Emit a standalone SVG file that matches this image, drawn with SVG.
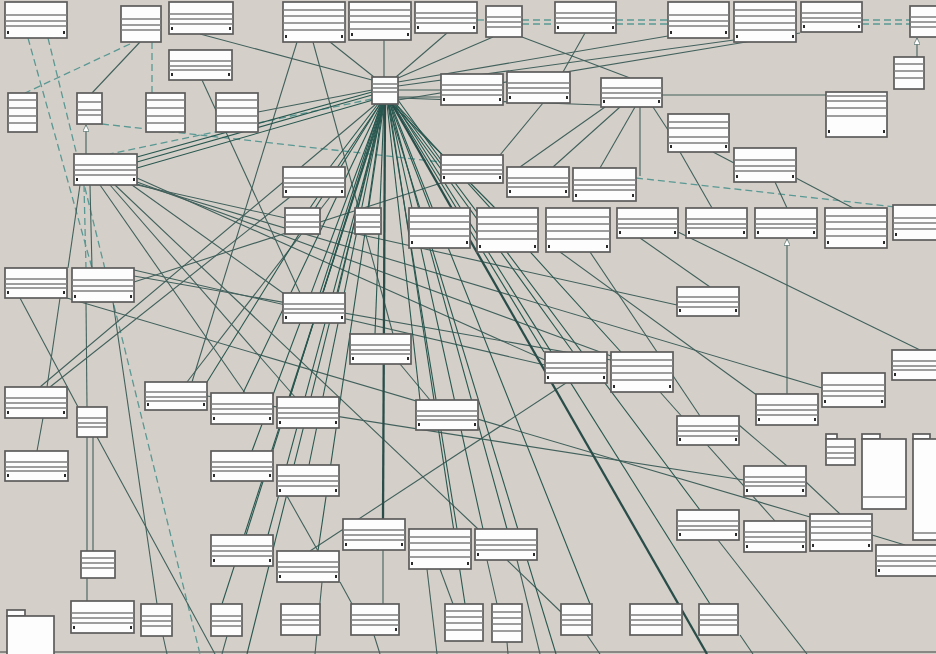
<svg xmlns="http://www.w3.org/2000/svg" width="936" height="654" viewBox="0 0 936 654">
<style>
.n rect{fill:#fdfdfd;stroke:#5c5c5c;stroke-width:1.7}
.n .c{stroke:#7e7e7e;stroke-width:1.5;fill:none}
.n .k{fill:#2a2a2a}
#edges path{fill:none}
.s{stroke:#42605c;stroke-width:1.1}
.d{stroke:#5a9894;stroke-width:1.3;stroke-dasharray:7 4}
.h{stroke:#28574f;stroke-width:1.1}
.t{stroke:#2a4d4a;stroke-width:2.3}
</style>
<defs>
<marker id="tri" viewBox="0 0 10 10" refX="10" refY="5" markerWidth="6" markerHeight="6" orient="auto"><path d="M0 0L10 5L0 10z" fill="#fff" stroke="#42605c"/></marker>
</defs>
<rect width="936" height="654" fill="#d4d0c9"/>
<path d="M0 652H936" stroke="#8a8884" stroke-width="2"/>
<g id="edges">
<path class="d" d="M28 38L92 268"/>
<path class="d" d="M48 38L200 654"/>
<path class="d" d="M130 44L25 93"/>
<path class="d" d="M152 42V93"/>
<path class="d" d="M102 124L441 162"/>
<path class="d" d="M636 178L905 208"/>
<path class="d" d="M522 20H555M522 24H555"/>
<path class="d" d="M616 20H668M616 24H668"/>
<path class="d" d="M862 20H910M862 24H910"/>
<path class="d" d="M477 20H486"/>
<path class="d" d="M372 99L110 154"/>
<path class="d" d="M84 185L86 268"/>
<path class="s" d="M140 42L92 93"/>
<path class="s" d="M86 154V125" marker-end="url(#tri)"/>
<path class="s" d="M384 40V77"/>
<path class="s" d="M330 42L374 77"/>
<path class="s" d="M200 34L372 80"/>
<path class="s" d="M447 33L396 77"/>
<path class="s" d="M493 37L398 78"/>
<path class="s" d="M668 36L398 82"/>
<path class="s" d="M734 40L398 86"/>
<path class="s" d="M800 33L398 100"/>
<path class="s" d="M522 37L630 78"/>
<path class="s" d="M585 33L563 72"/>
<path class="s" d="M662 95H826"/>
<path class="s" d="M605 107L520 167"/>
<path class="s" d="M620 107L553 167"/>
<path class="s" d="M635 107L600 168"/>
<path class="s" d="M640 107V176"/>
<path class="s" d="M653 107L668 130"/>
<path class="s" d="M398 98L601 105"/>
<path class="s" d="M680 152L712 208"/>
<path class="s" d="M713 152L734 163"/>
<path class="s" d="M917 57V38" marker-end="url(#tri)"/>
<path class="s" d="M775 182L787 208"/>
<path class="s" d="M796 178L853 208"/>
<path class="s" d="M787 394V239" marker-end="url(#tri)"/>
<path class="s" d="M678 232L920 350"/>
<path class="s" d="M640 238L710 287"/>
<path class="s" d="M441 90H398M441 97H398"/>
<path class="s" d="M543 103L500 155"/>
<path class="s" d="M258 112L372 90"/>
<path class="s" d="M297 42L192 382"/>
<path class="s" d="M313 42L393 334"/>
<path class="s" d="M202 80L300 293"/>
<path class="s" d="M80 185L68 268"/>
<path class="s" d="M90 185L92 268"/>
<path class="s" d="M100 185L245 393"/>
<path class="s" d="M110 185L295 397"/>
<path class="s" d="M115 185L478 529"/>
<path class="s" d="M132 185L283 293"/>
<path class="s" d="M137 178L545 360"/>
<path class="s" d="M137 182L611 356"/>
<path class="s" d="M137 184L822 388"/>
<path class="s" d="M137 185L677 305"/>
<path class="s" d="M67 298L810 517"/>
<path class="s" d="M20 298L78 407"/>
<path class="s" d="M60 298L47 387"/>
<path class="s" d="M86 302L87 407"/>
<path class="s" d="M113 302L157 604"/>
<path class="s" d="M134 276L611 360"/>
<path class="s" d="M134 270L545 365"/>
<path class="s" d="M134 282L441 183"/>
<path class="s" d="M40 387L376 104"/>
<path class="s" d="M50 387L290 197"/>
<path class="s" d="M43 418L37 451"/>
<path class="s" d="M87 437V551M93 437V551"/>
<path class="s" d="M87 578V601"/>
<path class="s" d="M97 437L215 654"/>
<path class="s" d="M163 636L167 654M227 636L222 654"/>
<path class="s" d="M187 382L330 197"/>
<path class="s" d="M207 396L744 480"/>
<path class="s" d="M287 496L318 551"/>
<path class="s" d="M322 582L315 654"/>
<path class="s" d="M340 582L352 604"/>
<path class="s" d="M383 550V604"/>
<path class="s" d="M374 635L380 654"/>
<path class="s" d="M427 569L437 654"/>
<path class="s" d="M440 569L453 604"/>
<path class="s" d="M310 551L566 383"/>
<path class="s" d="M487 560L497 604"/>
<path class="s" d="M517 560L540 654"/>
<path class="s" d="M507 560L561 612"/>
<path class="s" d="M587 635L600 654"/>
<path class="s" d="M507 642L508 654"/>
<path class="s" d="M739 425L787 466"/>
<path class="s" d="M806 482L840 514"/>
<path class="s" d="M872 535L905 545"/>
<path class="s" d="M660 392L775 521"/>
<path class="s" d="M718 540L807 654"/>
<path class="s" d="M740 635L753 654"/>
<path class="s" d="M560 252L758 396"/>
<path class="s" d="M590 252L700 416"/>
<path class="s" d="M400 364L430 400"/>
<path class="h" d="M372 92L137 157"/>
<path class="h" d="M372 95L137 162"/>
<path class="h" d="M373 100L137 168"/>
<path class="h" d="M378 104L330 167"/>
<path class="h" d="M380 104L310 208"/>
<path class="h" d="M383 104L368 208"/>
<path class="h" d="M381 104L320 293"/>
<path class="h" d="M382 104L338 293"/>
<path class="h" d="M384 104L375 334"/>
<path class="h" d="M380 104L207 382"/>
<path class="h" d="M381 104L243 393"/>
<path class="h" d="M382 104L290 397"/>
<path class="h" d="M382 104L252 451"/>
<path class="h" d="M383 104L309 465"/>
<path class="h" d="M383 104L246 535"/>
<path class="h" d="M384 104L318 551"/>
<path class="h" d="M384 104L268 535"/>
<path class="h" d="M384 104L222 604"/>
<path class="h" d="M384 104L247 654"/>
<path class="t" d="M385 104L383 519"/>
<path class="h" d="M387 104L420 400"/>
<path class="h" d="M388 104L457 529"/>
<path class="h" d="M389 104L483 529"/>
<path class="h" d="M390 104L507 529"/>
<path class="h" d="M390 104L430 208"/>
<path class="h" d="M392 104L495 208"/>
<path class="h" d="M391 104L590 604"/>
<path class="t" d="M392 104L707 654"/>
<path class="h" d="M393 104L544 352"/>
<path class="h" d="M394 104L573 352"/>
<path class="h" d="M396 104L621 352"/>
<path class="h" d="M395 104L710 604"/>
<path class="h" d="M396 104L700 510"/>
<path class="h" d="M398 100L441 160"/>
<path class="h" d="M388 104L556 654"/>
<path class="h" d="M389 104L465 604"/>
</g>
<g id="n1" class="n"><rect x="5" y="2" width="62" height="36"/><path class="c" d="M5 15h62M5 21h62M5 26h62"/><path class="k" d="M7 31h2v3h-2zM63 31h2v3h-2z"/></g>
<g id="n2" class="n"><rect x="121" y="6" width="40" height="36"/><path class="c" d="M121 19h40M121 25h40M121 30h40"/></g>
<g id="n3" class="n"><rect x="169" y="2" width="64" height="32"/><path class="c" d="M169 14h64M169 19h64M169 24h64"/><path class="k" d="M171 27h2v3h-2zM229 27h2v3h-2z"/></g>
<g id="n4" class="n"><rect x="283" y="2" width="62" height="40"/><path class="c" d="M283 10h62M283 16h62M283 23h62M283 30h62"/><path class="k" d="M285 35h2v3h-2zM341 35h2v3h-2z"/></g>
<g id="n5" class="n"><rect x="349" y="2" width="62" height="38"/><path class="c" d="M349 10h62M349 16h62M349 22h62M349 29h62"/><path class="k" d="M351 33h2v3h-2zM407 33h2v3h-2z"/></g>
<g id="n6" class="n"><rect x="415" y="2" width="62" height="31"/><path class="c" d="M415 13h62M415 18h62M415 23h62"/><path class="k" d="M417 26h2v3h-2zM473 26h2v3h-2z"/></g>
<g id="n7" class="n"><rect x="486" y="6" width="36" height="31"/><path class="c" d="M486 17h36M486 22h36M486 27h36"/></g>
<g id="n8" class="n"><rect x="555" y="2" width="61" height="31"/><path class="c" d="M555 13h61M555 18h61M555 23h61"/><path class="k" d="M557 26h2v3h-2zM612 26h2v3h-2z"/></g>
<g id="n9" class="n"><rect x="668" y="2" width="61" height="36"/><path class="c" d="M668 15h61M668 21h61M668 26h61"/><path class="k" d="M670 31h2v3h-2zM725 31h2v3h-2z"/></g>
<g id="n10" class="n"><rect x="734" y="2" width="62" height="40"/><path class="c" d="M734 10h62M734 16h62M734 23h62M734 30h62"/><path class="k" d="M736 35h2v3h-2zM792 35h2v3h-2z"/></g>
<g id="n11" class="n"><rect x="801" y="2" width="61" height="30"/><path class="c" d="M801 13h61M801 18h61M801 22h61"/><path class="k" d="M803 25h2v3h-2zM858 25h2v3h-2z"/></g>
<g id="n12" class="n"><rect x="910" y="6" width="30" height="31"/><path class="c" d="M910 17h30M910 22h30M910 27h30"/></g>
<g id="n13" class="n"><rect x="169" y="50" width="63" height="30"/><path class="c" d="M169 61h63M169 66h63M169 70h63"/><path class="k" d="M171 73h2v3h-2zM228 73h2v3h-2z"/></g>
<g id="n14" class="n"><rect x="8" y="93" width="29" height="39"/><path class="c" d="M8 100h29M8 108h29M8 116h29M8 123h29"/></g>
<g id="n15" class="n"><rect x="77" y="93" width="25" height="31"/><path class="c" d="M77 102h25M77 110h25M77 115h25"/></g>
<g id="n16" class="n"><rect x="146" y="93" width="39" height="39"/><path class="c" d="M146 100h39M146 108h39M146 116h39M146 123h39"/></g>
<g id="n17" class="n"><rect x="216" y="93" width="42" height="39"/><path class="c" d="M216 100h42M216 108h42M216 116h42M216 123h42"/></g>
<g id="n18" class="n"><rect x="372" y="77" width="26" height="27"/><path class="c" d="M372 84h26M372 88h26M372 92h26"/></g>
<g id="n19" class="n"><rect x="441" y="74" width="62" height="31"/><path class="c" d="M441 85h62M441 90h62M441 95h62"/><path class="k" d="M443 98h2v3h-2zM499 98h2v3h-2z"/></g>
<g id="n20" class="n"><rect x="507" y="72" width="63" height="31"/><path class="c" d="M507 83h63M507 88h63M507 93h63"/><path class="k" d="M509 96h2v3h-2zM566 96h2v3h-2z"/></g>
<g id="n21" class="n"><rect x="601" y="78" width="61" height="29"/><path class="c" d="M601 88h61M601 93h61M601 98h61"/><path class="k" d="M603 100h2v3h-2zM658 100h2v3h-2z"/></g>
<g id="n22" class="n"><rect x="894" y="57" width="30" height="32"/><path class="c" d="M894 64h30M894 71h30M894 78h30"/></g>
<g id="n23" class="n"><rect x="826" y="92" width="61" height="45"/><path class="c" d="M826 96h61M826 101h61M826 108h61M826 116h61"/><path class="k" d="M828 130h2v3h-2zM883 130h2v3h-2z"/></g>
<g id="n24" class="n"><rect x="668" y="114" width="61" height="38"/><path class="c" d="M668 122h61M668 128h61M668 137h61M668 143h61"/><path class="k" d="M670 145h2v3h-2zM725 145h2v3h-2z"/></g>
<g id="n25" class="n"><rect x="734" y="148" width="62" height="34"/><path class="c" d="M734 160h62M734 166h62M734 171h62"/><path class="k" d="M736 175h2v3h-2zM792 175h2v3h-2z"/></g>
<g id="n26" class="n"><rect x="74" y="154" width="63" height="31"/><path class="c" d="M74 165h63M74 170h63M74 175h63"/><path class="k" d="M76 178h2v3h-2zM133 178h2v3h-2z"/></g>
<g id="n27" class="n"><rect x="283" y="167" width="62" height="30"/><path class="c" d="M283 178h62M283 183h62M283 187h62"/><path class="k" d="M285 190h2v3h-2zM341 190h2v3h-2z"/></g>
<g id="n28" class="n"><rect x="441" y="155" width="62" height="28"/><path class="c" d="M441 165h62M441 170h62M441 174h62"/><path class="k" d="M443 176h2v3h-2zM499 176h2v3h-2z"/></g>
<g id="n29" class="n"><rect x="507" y="167" width="62" height="30"/><path class="c" d="M507 178h62M507 183h62M507 187h62"/><path class="k" d="M509 190h2v3h-2zM565 190h2v3h-2z"/></g>
<g id="n30" class="n"><rect x="573" y="168" width="63" height="33"/><path class="c" d="M573 180h63M573 185h63M573 190h63"/><path class="k" d="M575 194h2v3h-2zM632 194h2v3h-2z"/></g>
<g id="n31" class="n"><rect x="285" y="208" width="35" height="26"/><path class="c" d="M285 215h35M285 222h35M285 227h35"/></g>
<g id="n32" class="n"><rect x="355" y="208" width="26" height="26"/><path class="c" d="M355 215h26M355 222h26M355 227h26"/></g>
<g id="n33" class="n"><rect x="409" y="208" width="61" height="40"/><path class="c" d="M409 216h61M409 222h61M409 229h61M409 236h61"/><path class="k" d="M411 241h2v3h-2zM466 241h2v3h-2z"/></g>
<g id="n34" class="n"><rect x="477" y="208" width="61" height="44"/><path class="c" d="M477 217h61M477 224h61M477 231h61M477 239h61"/><path class="k" d="M479 245h2v3h-2zM534 245h2v3h-2z"/></g>
<g id="n35" class="n"><rect x="546" y="208" width="64" height="44"/><path class="c" d="M546 217h64M546 224h64M546 231h64M546 239h64"/><path class="k" d="M548 245h2v3h-2zM606 245h2v3h-2z"/></g>
<g id="n36" class="n"><rect x="617" y="208" width="61" height="30"/><path class="c" d="M617 219h61M617 224h61M617 228h61"/><path class="k" d="M619 231h2v3h-2zM674 231h2v3h-2z"/></g>
<g id="n37" class="n"><rect x="686" y="208" width="61" height="30"/><path class="c" d="M686 219h61M686 224h61M686 228h61"/><path class="k" d="M688 231h2v3h-2zM743 231h2v3h-2z"/></g>
<g id="n38" class="n"><rect x="755" y="208" width="62" height="30"/><path class="c" d="M755 219h62M755 224h62M755 228h62"/><path class="k" d="M757 231h2v3h-2zM813 231h2v3h-2z"/></g>
<g id="n39" class="n"><rect x="825" y="208" width="62" height="40"/><path class="c" d="M825 216h62M825 222h62M825 229h62M825 236h62"/><path class="k" d="M827 241h2v3h-2zM883 241h2v3h-2z"/></g>
<g id="n40" class="n"><rect x="893" y="205" width="45" height="35"/><path class="c" d="M893 218h45M893 223h45M893 229h45"/><path class="k" d="M895 233h2v3h-2z"/></g>
<g id="n41" class="n"><rect x="5" y="268" width="62" height="30"/><path class="c" d="M5 279h62M5 284h62M5 288h62"/><path class="k" d="M7 291h2v3h-2zM63 291h2v3h-2z"/></g>
<g id="n42" class="n"><rect x="72" y="268" width="62" height="34"/><path class="c" d="M72 280h62M72 286h62M72 291h62"/><path class="k" d="M74 295h2v3h-2zM130 295h2v3h-2z"/></g>
<g id="n43" class="n"><rect x="283" y="293" width="62" height="30"/><path class="c" d="M283 304h62M283 309h62M283 313h62"/><path class="k" d="M285 316h2v3h-2zM341 316h2v3h-2z"/></g>
<g id="n44" class="n"><rect x="677" y="287" width="62" height="29"/><path class="c" d="M677 297h62M677 302h62M677 307h62"/><path class="k" d="M679 309h2v3h-2zM735 309h2v3h-2z"/></g>
<g id="n45" class="n"><rect x="350" y="334" width="61" height="30"/><path class="c" d="M350 345h61M350 350h61M350 354h61"/><path class="k" d="M352 357h2v3h-2zM407 357h2v3h-2z"/></g>
<g id="n46" class="n"><rect x="545" y="352" width="62" height="31"/><path class="c" d="M545 363h62M545 368h62M545 373h62"/><path class="k" d="M547 376h2v3h-2zM603 376h2v3h-2z"/></g>
<g id="n47" class="n"><rect x="611" y="352" width="62" height="40"/><path class="c" d="M611 360h62M611 366h62M611 373h62M611 380h62"/><path class="k" d="M613 385h2v3h-2zM669 385h2v3h-2z"/></g>
<g id="n48" class="n"><rect x="892" y="350" width="46" height="30"/><path class="c" d="M892 361h46M892 366h46M892 370h46"/><path class="k" d="M894 373h2v3h-2z"/></g>
<g id="n49" class="n"><rect x="5" y="387" width="62" height="31"/><path class="c" d="M5 398h62M5 403h62M5 408h62"/><path class="k" d="M7 411h2v3h-2zM63 411h2v3h-2z"/></g>
<g id="n50" class="n"><rect x="77" y="407" width="30" height="30"/><path class="c" d="M77 418h30M77 423h30M77 427h30"/></g>
<g id="n51" class="n"><rect x="145" y="382" width="62" height="28"/><path class="c" d="M145 392h62M145 397h62M145 401h62"/><path class="k" d="M147 403h2v3h-2zM203 403h2v3h-2z"/></g>
<g id="n52" class="n"><rect x="211" y="393" width="62" height="31"/><path class="c" d="M211 404h62M211 409h62M211 414h62"/><path class="k" d="M213 417h2v3h-2zM269 417h2v3h-2z"/></g>
<g id="n53" class="n"><rect x="277" y="397" width="62" height="31"/><path class="c" d="M277 408h62M277 413h62M277 418h62"/><path class="k" d="M279 421h2v3h-2zM335 421h2v3h-2z"/></g>
<g id="n54" class="n"><rect x="416" y="400" width="62" height="30"/><path class="c" d="M416 411h62M416 416h62M416 420h62"/><path class="k" d="M418 423h2v3h-2zM474 423h2v3h-2z"/></g>
<g id="n55" class="n"><rect x="756" y="394" width="62" height="31"/><path class="c" d="M756 405h62M756 410h62M756 415h62"/><path class="k" d="M758 418h2v3h-2zM814 418h2v3h-2z"/></g>
<g id="n56" class="n"><rect x="822" y="373" width="63" height="34"/><path class="c" d="M822 385h63M822 391h63M822 396h63"/><path class="k" d="M824 400h2v3h-2zM881 400h2v3h-2z"/></g>
<g id="n57" class="n"><rect x="677" y="416" width="62" height="29"/><path class="c" d="M677 426h62M677 431h62M677 436h62"/><path class="k" d="M679 438h2v3h-2zM735 438h2v3h-2z"/></g>
<g id="n58" class="n"><rect x="826" y="434" width="11" height="5"/><rect x="826" y="439" width="29" height="26"/><path class="c" d="M826 447h29M826 453h29M826 458h29"/></g>
<g id="n59" class="n"><rect x="862" y="434" width="18" height="5"/><rect x="862" y="439" width="44" height="70"/><path class="c" d="M862 497h44"/></g>
<g id="n60" class="n"><rect x="913" y="434" width="17" height="5"/><rect x="913" y="439" width="30" height="101"/><path class="c" d="M913 533h30"/></g>
<g id="n61" class="n"><rect x="5" y="451" width="63" height="30"/><path class="c" d="M5 462h63M5 467h63M5 471h63"/><path class="k" d="M7 474h2v3h-2zM64 474h2v3h-2z"/></g>
<g id="n62" class="n"><rect x="211" y="451" width="62" height="30"/><path class="c" d="M211 462h62M211 467h62M211 471h62"/><path class="k" d="M213 474h2v3h-2zM269 474h2v3h-2z"/></g>
<g id="n63" class="n"><rect x="277" y="465" width="62" height="31"/><path class="c" d="M277 476h62M277 481h62M277 486h62"/><path class="k" d="M279 489h2v3h-2zM335 489h2v3h-2z"/></g>
<g id="n64" class="n"><rect x="744" y="466" width="62" height="30"/><path class="c" d="M744 477h62M744 482h62M744 486h62"/><path class="k" d="M746 489h2v3h-2zM802 489h2v3h-2z"/></g>
<g id="n65" class="n"><rect x="343" y="519" width="62" height="31"/><path class="c" d="M343 530h62M343 535h62M343 540h62"/><path class="k" d="M345 543h2v3h-2zM401 543h2v3h-2z"/></g>
<g id="n66" class="n"><rect x="409" y="529" width="62" height="40"/><path class="c" d="M409 537h62M409 543h62M409 550h62M409 557h62"/><path class="k" d="M411 562h2v3h-2zM467 562h2v3h-2z"/></g>
<g id="n67" class="n"><rect x="475" y="529" width="62" height="31"/><path class="c" d="M475 540h62M475 545h62M475 550h62"/><path class="k" d="M477 553h2v3h-2zM533 553h2v3h-2z"/></g>
<g id="n68" class="n"><rect x="677" y="510" width="62" height="30"/><path class="c" d="M677 521h62M677 526h62M677 530h62"/><path class="k" d="M679 533h2v3h-2zM735 533h2v3h-2z"/></g>
<g id="n69" class="n"><rect x="744" y="521" width="62" height="31"/><path class="c" d="M744 532h62M744 537h62M744 542h62"/><path class="k" d="M746 545h2v3h-2zM802 545h2v3h-2z"/></g>
<g id="n70" class="n"><rect x="810" y="514" width="62" height="37"/><path class="c" d="M810 521h62M810 527h62M810 533h62M810 540h62"/><path class="k" d="M812 544h2v3h-2zM868 544h2v3h-2z"/></g>
<g id="n71" class="n"><rect x="876" y="545" width="62" height="31"/><path class="c" d="M876 556h62M876 561h62M876 566h62"/><path class="k" d="M878 569h2v3h-2z"/></g>
<g id="n72" class="n"><rect x="211" y="535" width="62" height="31"/><path class="c" d="M211 546h62M211 551h62M211 556h62"/><path class="k" d="M213 559h2v3h-2zM269 559h2v3h-2z"/></g>
<g id="n73" class="n"><rect x="277" y="551" width="62" height="31"/><path class="c" d="M277 562h62M277 567h62M277 572h62"/><path class="k" d="M279 575h2v3h-2zM335 575h2v3h-2z"/></g>
<g id="n74" class="n"><rect x="81" y="551" width="34" height="27"/><path class="c" d="M81 558h34M81 563h34M81 568h34"/></g>
<g id="n75" class="n"><rect x="7" y="610" width="18" height="6"/><rect x="7" y="616" width="47" height="40"/></g>
<g id="n76" class="n"><rect x="71" y="601" width="63" height="32"/><path class="c" d="M71 613h63M71 618h63M71 623h63"/><path class="k" d="M73 626h2v3h-2zM130 626h2v3h-2z"/></g>
<g id="n77" class="n"><rect x="141" y="604" width="31" height="32"/><path class="c" d="M141 616h31M141 621h31M141 626h31"/></g>
<g id="n78" class="n"><rect x="211" y="604" width="31" height="32"/><path class="c" d="M211 616h31M211 621h31M211 626h31"/></g>
<g id="n79" class="n"><rect x="281" y="604" width="39" height="31"/><path class="c" d="M281 615h39M281 620h39M281 625h39"/></g>
<g id="n80" class="n"><rect x="351" y="604" width="48" height="31"/><path class="c" d="M351 615h48M351 620h48M351 625h48"/><path class="k" d="M395 628h2v3h-2z"/></g>
<g id="n81" class="n"><rect x="445" y="604" width="38" height="37"/><path class="c" d="M445 611h38M445 617h38M445 623h38M445 630h38"/></g>
<g id="n82" class="n"><rect x="492" y="604" width="30" height="38"/><path class="c" d="M492 612h30M492 618h30M492 624h30M492 631h30"/></g>
<g id="n83" class="n"><rect x="561" y="604" width="31" height="31"/><path class="c" d="M561 615h31M561 620h31M561 625h31"/></g>
<g id="n84" class="n"><rect x="630" y="604" width="52" height="31"/><path class="c" d="M630 615h52M630 620h52M630 625h52"/></g>
<g id="n85" class="n"><rect x="699" y="604" width="39" height="31"/><path class="c" d="M699 615h39M699 620h39M699 625h39"/></g>
</svg>
